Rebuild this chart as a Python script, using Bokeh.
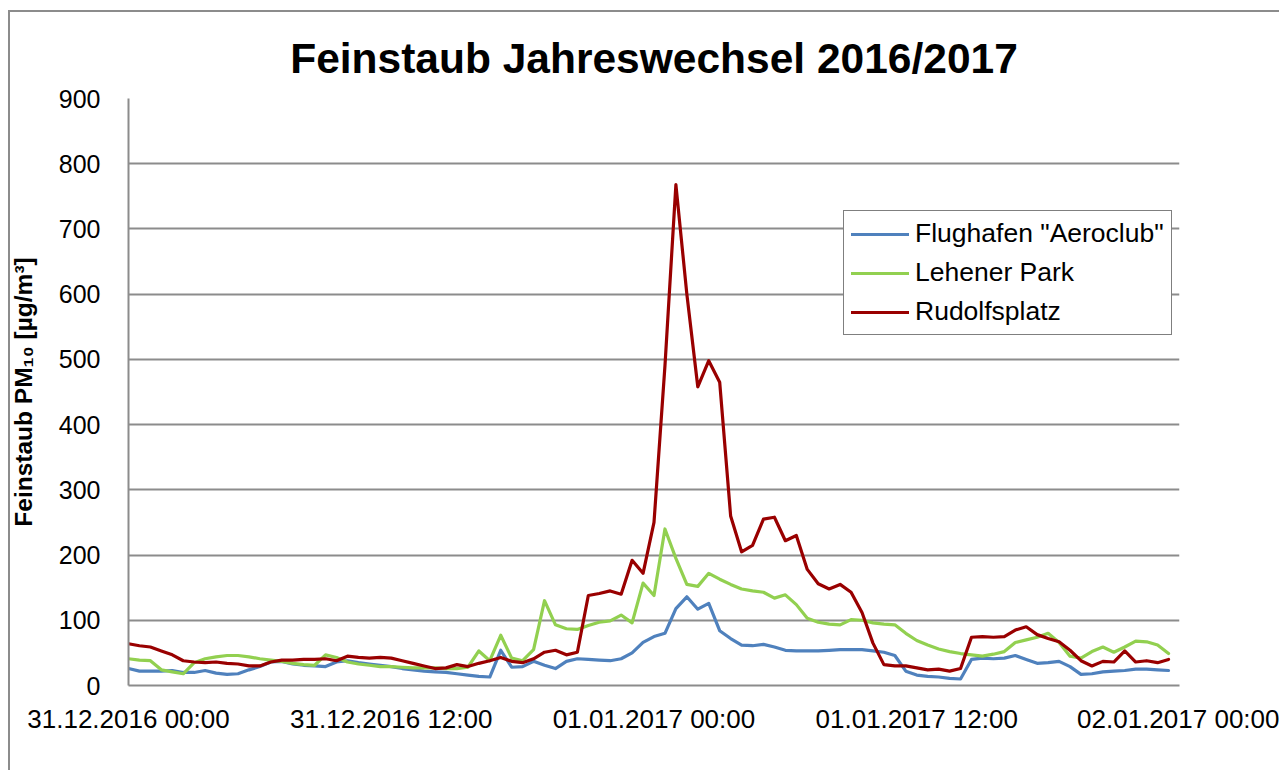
import pandas as pd
from bokeh.plotting import figure
from bokeh.models import Range1d, FixedTicker, Legend, LegendItem
from bokeh.embed import file_html
from bokeh.resources import INLINE

# ---- data (half-hourly values, µg/m³) ----
times = pd.date_range("2016-12-31 00:00", periods=96, freq="30min")

flughafen = [26, 22, 22, 22, 23, 20, 20, 23, 19, 17, 18, 24, 29, 36, 37, 33,
             31, 30, 29, 36, 38, 35, 33, 31, 29, 26, 24, 22, 21, 20, 18, 16,
             14, 13, 54, 28, 29, 37, 31, 26, 37, 41, 40, 39, 38, 41, 50, 66,
             75, 80, 118, 136, 117, 126, 84, 72, 62, 61, 63, 59, 54, 53, 53, 53,
             54, 55, 55, 55, 53, 51, 46, 22, 16, 14, 13, 11, 10, 40, 42, 41,
             42, 46, 40, 34, 35, 37, 29, 17, 18, 21, 22, 23, 25, 25, 24, 23]

lehener = [41, 39, 38, 24, 21, 18, 35, 41, 44, 46, 46, 44, 41, 39, 37, 34,
           32, 31, 47, 43, 36, 33, 31, 29, 29, 28, 27, 27, 27, 26, 26, 28,
           53, 38, 77, 42, 38, 55, 130, 93, 87, 86, 92, 97, 99, 108, 96, 157,
           138, 240, 195, 155, 152, 172, 163, 155, 148, 145, 143, 134, 139, 124, 103, 97,
           94, 93, 101, 100, 96, 94, 93, 80, 69, 62, 56, 52, 49, 47, 45, 48,
           52, 66, 70, 74, 80, 66, 45, 42, 52, 59, 51, 59, 68, 67, 62, 49]

rudolfsplatz = [64, 61, 59, 53, 47, 38, 36, 35, 36, 34, 33, 30, 30, 36, 39, 39,
                40, 40, 41, 38, 45, 43, 42, 43, 42, 38, 34, 30, 26, 27, 32, 29,
                34, 38, 43, 37, 35, 41, 51, 54, 47, 51, 138, 141, 145, 140, 192, 172,
                250, 490, 768, 600, 458, 498, 465, 260, 205, 215, 255, 258, 222, 230, 178, 156,
                148, 155, 143, 112, 65, 32, 30, 30, 27, 24, 25, 22, 26, 74, 75, 74,
                75, 85, 90, 78, 72, 67, 54, 38, 30, 37, 36, 53, 36, 38, 35, 40]

series_names = ['Flughafen "Aeroclub"', "Lehener Park", "Rudolfsplatz"]
series_colors = ["#4F81BD", "#92D050", "#990000"]

tick_hours = [0, 12, 24, 36, 48]
tick_labels = ["31.12.2016 00:00", "31.12.2016 12:00", "01.01.2017 00:00",
               "01.01.2017 12:00", "02.01.2017 00:00"]
y_ticks = [0, 100, 200, 300, 400, 500, 600, 700, 800, 900]

hours = list((times - times[0]).total_seconds() / 3600.0)

FONT = "Liberation Sans"
GRID = "#8c8c8c"

p = figure(width=1279, height=770, output_backend="svg", toolbar_location=None,
           x_range=Range1d(0, 48), y_range=Range1d(0, 900),
           title="Feinstaub Jahreswechsel 2016/2017")
p.min_border_left = 128
p.min_border_right = 100
p.min_border_top = 98
p.min_border_bottom = 85
p.outline_line_color = None
p.border_fill_color = None
p.background_fill_color = "white"
p.styles = {"background": "linear-gradient(#8c8c8c,#8c8c8c) 8px 10px / 2px 100% no-repeat, "
                          "linear-gradient(#8c8c8c,#8c8c8c) 8px 10px / 100% 2px no-repeat, #ffffff"}

p.title.align = "center"
p.title.text_font = FONT
p.title.text_font_size = "42.5px"
p.title.text_font_style = "bold"
p.title.text_color = "black"
p.title.standoff = 33

# axes
p.xaxis.ticker = FixedTicker(ticks=tick_hours)
p.xaxis.major_label_overrides = {h: lab for h, lab in zip(tick_hours, tick_labels)}
p.yaxis.ticker = FixedTicker(ticks=y_ticks)
for ax in (p.xaxis[0], p.yaxis[0]):
    ax.major_tick_line_color = None
    ax.minor_tick_line_color = None
    ax.axis_line_color = GRID
    ax.axis_line_width = 2
    ax.major_label_text_font = FONT
    ax.major_label_text_color = "black"
p.xaxis.major_label_text_font_size = "26px"
p.yaxis.major_label_text_font_size = "25px"
p.xaxis.major_label_standoff = 12
p.yaxis.major_label_standoff = 22
p.yaxis.axis_label = "Feinstaub PM₁₀ [µg/m³]"
p.yaxis.axis_label_text_font = FONT
p.yaxis.axis_label_text_font_size = "24.5px"
p.yaxis.axis_label_text_font_style = "bold"
p.yaxis.axis_label_text_color = "black"
p.yaxis.axis_label_standoff = 19

p.xgrid.grid_line_color = None
p.ygrid.grid_line_color = GRID
p.ygrid.grid_line_width = 2

renderers = []
for vals, name, col in zip([flughafen, lehener, rudolfsplatz], series_names, series_colors):
    r = p.line(hours, vals, line_color=col, line_width=3.2, line_join="round", line_cap="round")
    renderers.append((name, r))

legend = Legend(items=[LegendItem(label=n, renderers=[r]) for n, r in renderers],
                location=(715, 350))
legend.label_text_font = FONT
legend.label_text_font_size = "26.5px"
legend.label_text_color = "black"
legend.glyph_width = 58
legend.glyph_height = 26
legend.label_height = 26
legend.spacing = 8
legend.padding = 7
legend.margin = 0
legend.label_standoff = 6
legend.border_line_color = "black"
legend.border_line_width = 1.5
legend.background_fill_color = "white"
legend.background_fill_alpha = 1
p.add_layout(legend, "center")

open("out.html", "w").write(file_html(p, INLINE))
